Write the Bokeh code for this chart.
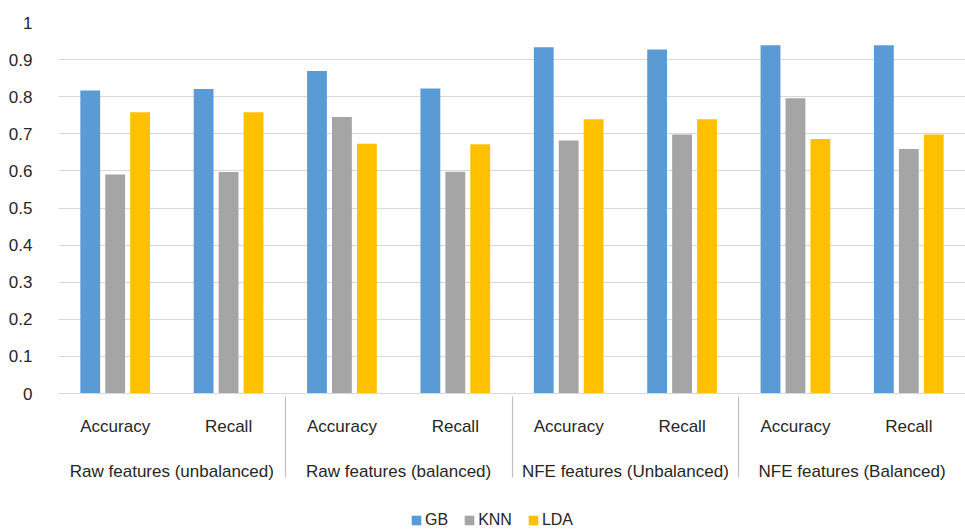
from bokeh.plotting import figure
from bokeh.layouts import column
from bokeh.models import FactorRange, ColumnDataSource, Legend, LegendItem, FixedTicker, Range1d
from bokeh.transform import dodge
from bokeh.embed import file_html
from bokeh.resources import INLINE

groups = ["Raw features (unbalanced)", "Raw features (balanced)",
          "NFE features (Unbalanced)", "NFE features (Balanced)"]
metrics = ["Accuracy", "Recall"]
series = ["GB", "KNN", "LDA"]
gb = [0.817, 0.821, 0.869, 0.822, 0.933, 0.927, 0.939, 0.939]
knn = [0.590, 0.597, 0.745, 0.598, 0.682, 0.698, 0.796, 0.659]
lda = [0.758, 0.758, 0.673, 0.672, 0.739, 0.739, 0.686, 0.698]
y_ticks = [0, 0.1, 0.2, 0.3, 0.4, 0.5, 0.6, 0.7, 0.8, 0.9, 1]
y_tick_labels = ["0", "0.1", "0.2", "0.3", "0.4", "0.5", "0.6", "0.7", "0.8", "0.9", "1"]
colors = ["#5B9BD5", "#A5A5A5", "#FFC000"]

FONT = "Liberation Sans"
TXT = "#262626"

x = [(g, m) for g in groups for m in metrics]
source = ColumnDataSource(data=dict(x=x, GB=gb, KNN=knn, LDA=lda))

p = figure(x_range=FactorRange(*x, group_padding=0, factor_padding=0, range_padding=0),
           y_range=(0, 1), frame_width=907, frame_height=371, output_backend="svg",
           toolbar_location=None, min_border_left=58, min_border_right=0,
           min_border_top=22, min_border_bottom=110)

offsets = [-0.22, 0.0, 0.22]
for s, c, off in zip(series, colors, offsets):
    p.vbar(x=dodge("x", off, range=p.x_range), top=s, width=0.175,
           source=source, color=c, line_color=None)

p.outline_line_color = None
p.xgrid.grid_line_color = None
p.ygrid.grid_line_color = "#D9D9D9"
p.ygrid.grid_line_width = 1.2
p.yaxis.ticker = FixedTicker(ticks=y_ticks)
p.yaxis.major_label_overrides = {t: l for t, l in zip(y_ticks, y_tick_labels)}
p.yaxis.axis_line_color = None
p.yaxis.major_tick_line_color = None
p.yaxis.minor_tick_line_color = None
p.yaxis.major_label_text_font = FONT
p.yaxis.major_label_text_font_size = "17px"
p.yaxis.major_label_text_color = TXT
p.yaxis.major_label_standoff = 20

xa = p.xaxis[0]
xa.axis_line_color = "#D9D9D9"
xa.axis_line_width = 1.2
xa.major_tick_line_color = None
xa.major_tick_out = 0
xa.major_label_text_font = FONT
xa.major_label_text_font_size = "17px"
xa.major_label_text_color = TXT
xa.major_label_standoff = 23
xa.major_label_orientation = "horizontal"
xa.group_text_font = FONT
xa.group_text_font_size = "17px"
xa.group_text_font_style = "normal"
xa.group_text_color = TXT
xa.group_label_orientation = "horizontal"
xa.separator_line_color = "#BFBFBF"
xa.separator_line_width = 1.2

# legend strip below the chart (swatch renderers sit outside its visible range)
lf = figure(width=965, height=28, x_range=Range1d(0, 1), y_range=Range1d(0, 1),
            x_axis_type=None, y_axis_type=None, output_backend="svg",
            toolbar_location=None, min_border=0)
lf.outline_line_color = None
lf.xgrid.visible = False
lf.ygrid.visible = False
leg_renderers = [lf.vbar(x=[5], top=[5], bottom=[4], width=0.1, color=c, line_color=None)
                 for c in colors]
legend = Legend(items=[LegendItem(label=s, renderers=[r]) for s, r in zip(series, leg_renderers)],
                orientation="horizontal", location=(352, 2),
                label_text_font=FONT, label_text_font_size="16px", label_text_color=TXT,
                glyph_width=12, glyph_height=12, spacing=15, label_standoff=3,
                border_line_color=None, background_fill_alpha=0, margin=0, padding=0)
lf.add_layout(legend, "center")

layout = column(p, lf, spacing=0)
open("out.html", "w").write(file_html(layout, INLINE))
